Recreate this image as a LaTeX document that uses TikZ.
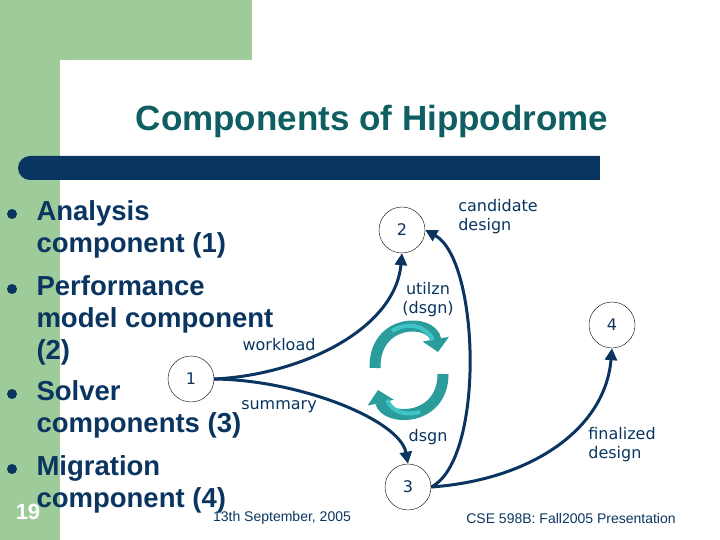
\documentclass[tikz,border=0pt]{standalone}
\usepackage{fontspec}
\setmainfont{Liberation Sans}
\newfontfamily\comic{DejaVu Sans}
\usetikzlibrary{arrows.meta}
\definecolor{navy}{HTML}{0A3560}
\definecolor{sgreen}{HTML}{9ECB9A}
\definecolor{ttl}{HTML}{0E5E62}
\definecolor{teal1}{HTML}{3FC4C8}
\definecolor{teal2}{HTML}{2A9C9C}
\begin{document}
\begin{tikzpicture}[x=1pt,y=-1pt,
  circ/.style={circle,draw=black,line width=0.4pt,minimum size=46pt,inner sep=0pt,font=\comic\fontsize{16}{16}\selectfont,text=navy},
  lab/.style={font=\comic\fontsize{16}{19}\selectfont,text=navy,align=left},
  conn/.style={draw=navy,line width=3pt,-{Triangle[length=12pt,width=12pt]}},
  bul/.style={circle,fill=navy,inner sep=0pt,minimum size=10pt},
  btxt/.style={anchor=west,font=\bfseries\fontsize{27.5}{32}\selectfont,text=navy,align=left}]
\useasboundingbox (0,0) rectangle (720,540);
\fill[sgreen] (0,0) rectangle (252,60);
\fill[sgreen] (0,0) rectangle (60,540);
\fill[white,rounded corners=10pt] (60,60) rectangle (300,120);
\fill[navy,rounded corners=12pt] (18,156) rectangle (620,180);
\fill[white] (600,150) rectangle (625,185);
\node[font=\bfseries\fontsize{35}{38}\selectfont,text=ttl] (title) at (372,121) {Components of Hippodrome};
% bullets
\node[bul] (b1) at (12,214) {};
\node[bul] (b2) at (12,289) {};
\node[bul] (b3) at (12,394) {};
\node[bul] (b4) at (12,469) {};
\node[btxt] (t1) at (33,229) {Analysis\\component (1)};
\node[btxt] (t2) at (33,320) {Performance\\model component\\(2)};
\node[btxt] (t3) at (33,409) {Solver\\components (3)};
\node[btxt] (t4) at (33,484) {Migration\\component (4)};
\node[font=\bfseries\fontsize{22}{22}\selectfont,text=white] (num) at (28,512) {19};
\node[font=\fontsize{14}{14}\selectfont,text=navy] (date) at (282,518) {13th September, 2005};
\node[font=\fontsize{14}{14}\selectfont,text=navy] (cse) at (571,518) {CSE 598B: Fall2005 Presentation};
% nodes
\node[circ] (n1) at (191,379) {1};
\node[circ] (n2) at (402,230) {2};
\node[circ] (n3) at (408,487) {3};
\node[circ] (n4) at (612,325) {4};
\node[lab] (l1) at (498,217) {candidate\\design};
\node[lab,align=center] (l2) at (428,300) {utilzn\\(dsgn)};
\node[lab] (l3) at (279,345) {workload};
\node[lab] (l4) at (279,407) {summary};
\node[lab] (l5) at (428,437) {dsgn};
\node[lab] (l6) at (622,445) {finalized\\design};
\draw[conn] (n1.east) .. controls (300,375) and (395,330) .. (n2.south);
\draw[conn] (n1.east) .. controls (300,380) and (400,420) .. (n3.north);
\draw[conn] (n3.east) .. controls (485,460) and (480,260) .. (n2.east);
\draw[conn] (n3.east) .. controls (530,480) and (605,430) .. (n4.south);
% cycle arrows
\draw[teal2,line width=11pt,-{Triangle[length=13pt,width=26pt]}] (375,368) .. controls (374,318) and (432,318) .. (438,352);
\draw[teal1,line width=4pt,line cap=butt] (392,331) .. controls (410,320) and (428,328) .. (433,340);
\draw[teal2,line width=11pt,-{Triangle[length=13pt,width=26pt]}] (443,374) .. controls (443,422) and (385,422) .. (378,390);
\draw[teal1,line width=4pt,line cap=butt] (387,400) .. controls (392,412) and (405,416) .. (420,412);
\end{tikzpicture}
\end{document}
